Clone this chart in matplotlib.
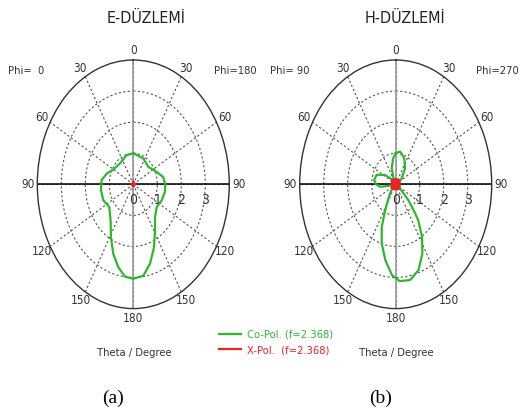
import numpy as np
import matplotlib
matplotlib.use('Agg')
import matplotlib.pyplot as plt
from matplotlib.lines import Line2D
from matplotlib import font_manager

# ---------------- data ----------------
theta_ticks = [0, 30, 60, 90, 120, 150, 180, 210, 240, 270, 300, 330]
theta_labels = ['0', '30', '60', '90', '120', '150', '180', '150', '120', '90', '60', '30']
r_ticks = [0, 1, 2, 3]

# E-plane co-pol (angle clockwise from top, degrees; right half = Phi 180, left half = Phi 0)
e_theta = [0, 26.7, 48.2, 67.7, 79.3, 90, 100.6, 113.6, 126.9, 139.4, 148.7, 156.9, 164.8,
           171.9, 180, 186.7, 193.2, 200.4, 208.7, 219.1, 233.8, 247.6, 261.8, 275.6, 287.2,
           299.6, 320.2, 343.4, 360]
e_co = [1.0, 0.93, 0.84, 1.05, 1.27, 1.33, 1.34, 1.29, 1.22, 1.39, 1.74, 2.2, 2.65,
        2.97, 3.04, 2.99, 2.74, 2.39, 1.94, 1.5, 1.24, 1.35, 1.36, 1.33, 1.16,
        0.96, 0.87, 0.98, 1.0]

# H-plane co-pol
h_theta = [0, 10, 23, 37, 53, 70, 100, 126, 134, 139, 141, 147, 153.5, 161, 169, 177, 183,
           190, 197, 203, 206, 210, 218, 235, 250, 259, 263, 270, 279, 291, 304, 318, 330,
           338, 342, 353, 360]
h_co = [1.0, 1.07, 0.91, 0.65, 0.31, 0.12, 0.1, 0.22, 0.73, 1.23, 1.49, 2.02, 2.49, 2.92,
        3.14, 3.12, 2.93, 2.48, 1.99, 1.49, 1.1, 0.75, 0.4, 0.15, 0.12, 0.24, 0.66, 0.82,
        0.91, 0.85, 0.54, 0.2, 0.15, 0.27, 0.54, 0.85, 1.0]

# X-pol (very small, near the centre)
x_theta = [0, 45, 90, 135, 180, 225, 270, 315, 360]
e_x = [0.08, 0.04, 0.08, 0.04, 0.08, 0.04, 0.08, 0.04, 0.08]
h_x = [0.16, 0.2, 0.17, 0.2, 0.16, 0.2, 0.17, 0.2, 0.16]

GREEN = '#2db82d'
RED = '#ee2222'
FONT = ['DejaVu Sans']
FP = dict(family=FONT, stretch='condensed')
SMALL = 8
TICK = 8.5

W, H = 524, 415
fig = plt.figure(figsize=(W / 100, H / 100), dpi=100)
plt.rcParams['font.family'] = FONT
plt.rcParams['font.stretch'] = 'condensed'


def make_ax(cx, cy=184.3, hw=96.0, hh=124.3):
    ax = fig.add_axes([(cx - hw) / W, (H - (cy + hh)) / H, 2 * hw / W, 2 * hh / H],
                      projection='polar')
    ax.set_aspect('auto')
    ax.set_theta_zero_location('N')
    ax.set_theta_direction(-1)
    ax.set_ylim(0, 4)
    ax.set_rgrids([1, 2, 3], labels=[])
    ax.set_thetagrids(theta_ticks, labels=theta_labels, fontsize=TICK, color='#333333', **FP)
    ax.tick_params(axis='x', pad=-3.5)
    ax.grid(True, linestyle=(0, (2, 2)), color='#555555', linewidth=0.8)
    ax.spines['polar'].set_color('#333333')
    ax.spines['polar'].set_linewidth(1.0)
    ax.axvline(0, color='#999999', lw=1.2, zorder=2)
    ax.axvline(np.pi, color='#999999', lw=1.2, zorder=2)
    ax.axvline(np.pi / 2, color='#111111', lw=1.2, zorder=2)
    ax.axvline(3 * np.pi / 2, color='#111111', lw=1.2, zorder=2)
    for r in r_ticks:
        ax.annotate(str(r), xy=(np.pi / 2, r), xytext=(0, -11), textcoords='offset points',
                    ha='center', va='center', fontsize=10, color='#333333', **FP)
    return ax


axL = make_ax(133.3)
axL.plot(np.deg2rad(e_theta), e_co, color=GREEN, lw=1.6, zorder=5)
axL.fill(np.deg2rad(x_theta), e_x, color=RED, zorder=6)
axL.plot(np.deg2rad(x_theta), e_x, color=RED, lw=1.5, zorder=6)

axR = make_ax(395.7)
axR.plot(np.deg2rad(h_theta), h_co, color=GREEN, lw=1.6, zorder=5)
axR.fill(np.deg2rad(x_theta), h_x, color=RED, zorder=6)
axR.plot(np.deg2rad(x_theta), h_x, color=RED, lw=1.5, zorder=6)


def ftext(x, y, s, **kw):
    fig.text(x / W, 1 - y / H, s, **kw)


ftext(146, 18, 'E-DÜZLEMİ', ha='center', va='center', fontsize=11.5, color='#222222', **FP)
ftext(405, 18, 'H-DÜZLEMİ', ha='center', va='center', fontsize=11.5, color='#222222', **FP)
ftext(8, 71, 'Phi=  0', ha='left', va='center', fontsize=SMALL, color='#333333', **FP)
ftext(257, 71, 'Phi=180', ha='right', va='center', fontsize=SMALL, color='#333333', **FP)
ftext(270, 71, 'Phi= 90', ha='left', va='center', fontsize=SMALL, color='#333333', **FP)
ftext(519, 71, 'Phi=270', ha='right', va='center', fontsize=SMALL, color='#333333', **FP)
ftext(134.5, 353, 'Theta / Degree', ha='center', va='center', fontsize=SMALL, color='#333333', **FP)
ftext(396, 353, 'Theta / Degree', ha='center', va='center', fontsize=SMALL, color='#333333', **FP)
ftext(113, 398, '(a)', ha='center', va='center', fontsize=14, family=['Liberation Serif'], color='black')
ftext(381, 398, '(b)', ha='center', va='center', fontsize=14, family=['Liberation Serif'], color='black')

handles = [Line2D([], [], color=GREEN, lw=1.6), Line2D([], [], color=RED, lw=1.6)]
leg = fig.legend(handles, ['Co-Pol. (f=2.368)', 'X-Pol.  (f=2.368)'],
                 loc='center left', bbox_to_anchor=(209 / W, 1 - 342.5 / H),
                 frameon=False, handlelength=2.0, handletextpad=0.55,
                 labelspacing=0.5,
                 prop=font_manager.FontProperties(family=FONT, stretch='condensed', size=SMALL))
for t, c in zip(leg.get_texts(), [GREEN, RED]):
    t.set_color(c)

fig.savefig('out.png', dpi=100)
